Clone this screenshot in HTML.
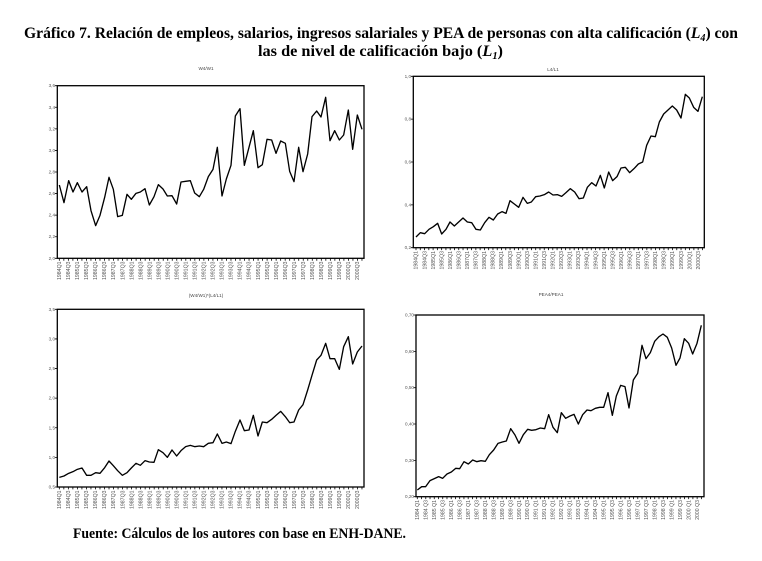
<!DOCTYPE html>
<html><head><meta charset="utf-8"><style>
html,body{margin:0;padding:0;background:#fff;}
svg{display:block;}
.t{font-family:"Liberation Serif",serif;font-weight:bold;fill:#000;}
.yl{font-family:"Liberation Sans",sans-serif;font-size:4.6px;fill:#555;text-anchor:end;}
.xl text{font-family:"Liberation Sans",sans-serif;font-size:5.2px;fill:#555;text-anchor:end;}
.ct{font-family:"Liberation Sans",sans-serif;font-size:4.6px;fill:#444;text-anchor:middle;}
.ln{fill:none;stroke:#000;stroke-width:4;stroke-linejoin:round;}
.fr{fill:none;stroke:#000;stroke-width:1.3;}
</style></head><body>
<svg width="762" height="561" viewBox="0 0 762 561" xmlns="http://www.w3.org/2000/svg">
<rect width="762" height="561" fill="#fff"/>
<text class="t" x="24" y="38" font-size="15.5" textLength="714" lengthAdjust="spacingAndGlyphs">Gráfico 7. Relación de empleos, salarios, ingresos salariales y PEA de  personas con alta calificación (<tspan font-style="italic">L</tspan><tspan font-style="italic" font-size="10" dy="3">4</tspan><tspan dy="-3">) con</tspan></text>
<text class="t" x="258" y="56" font-size="15.5" textLength="245" lengthAdjust="spacingAndGlyphs">las de nivel de calificación bajo (<tspan font-style="italic">L</tspan><tspan font-style="italic" font-size="10" dy="3">1</tspan><tspan dy="-3">)</tspan></text>
<text class="t" x="73" y="538" font-size="15" textLength="333" lengthAdjust="spacingAndGlyphs">Fuente: Cálculos de los autores con base en ENH-DANE.</text>

<!-- Chart 1 -->
<text class="ct" x="206" y="70">W4/W1</text>
<rect class="fr" x="57.3" y="85.7" width="306.7" height="172.6"/>
<g class="yl">
<text x="55" y="87.2">3,6</text><text x="55" y="108.8">3,4</text><text x="55" y="130.4">3,2</text><text x="55" y="151.9">3,0</text><text x="55" y="173.5">2,8</text><text x="55" y="195.1">2,6</text><text x="55" y="216.7">2,4</text><text x="55" y="238.2">2,2</text><text x="55" y="259.8">2,0</text>
</g>
<line x1="56" y1="85.3" x2="56" y2="259" stroke="#000" stroke-width="2.2" stroke-dasharray="0.8 20.775"/>
<line x1="58.93" y1="259.5" x2="362.5" y2="259.5" stroke="#000" stroke-width="2.4" stroke-dasharray="0.8 3.717"/>
<g transform="translate(40 60) scale(0.33333)"><polyline class="ln" points="58,375 72,428 86,362 99,396 112,368 126,396 140,380 153,452 167,497 180,466 194,412 207,352 220,388 233,470 247,466 261,403 274,418 288,400 301,396 315,386 328,435 342,410 355,374 369,387 382,408 396,407 410,432 423,366 437,364 451,362 464,399 478,410 491,388 505,350 519,328 532,262 546,408 559,357 573,316 586,168 600,146 613,316 627,262 640,212 654,323 667,314 681,238 695,240 708,280 722,243 736,250 749,334 762,365 776,262 789,335 803,282 816,170 830,153 843,171 857,112 870,242 884,212 898,240 911,225 925,150 938,268 952,165 966,208"/></g>
<g class="xl" transform="rotate(-90)">
<text x="-261.5" y="61.0">1984Q1</text><text x="-261.5" y="70.1">1984Q3</text><text x="-261.5" y="79.1">1985Q1</text><text x="-261.5" y="88.1">1985Q3</text><text x="-261.5" y="97.2">1986Q1</text><text x="-261.5" y="106.2">1986Q3</text><text x="-261.5" y="115.2">1987Q1</text><text x="-261.5" y="124.3">1987Q3</text><text x="-261.5" y="133.3">1988Q1</text><text x="-261.5" y="142.3">1988Q3</text><text x="-261.5" y="151.4">1989Q1</text><text x="-261.5" y="160.4">1989Q3</text><text x="-261.5" y="169.4">1990Q1</text><text x="-261.5" y="178.5">1990Q3</text><text x="-261.5" y="187.5">1991Q1</text><text x="-261.5" y="196.5">1991Q3</text><text x="-261.5" y="205.6">1992Q1</text><text x="-261.5" y="214.6">1992Q3</text><text x="-261.5" y="223.6">1993Q1</text><text x="-261.5" y="232.7">1993Q3</text><text x="-261.5" y="241.7">1994Q1</text><text x="-261.5" y="250.7">1994Q3</text><text x="-261.5" y="259.8">1995Q1</text><text x="-261.5" y="268.8">1995Q3</text><text x="-261.5" y="277.8">1996Q1</text><text x="-261.5" y="286.9">1996Q3</text><text x="-261.5" y="295.9">1997Q1</text><text x="-261.5" y="304.9">1997Q3</text><text x="-261.5" y="314.0">1998Q1</text><text x="-261.5" y="323.0">1998Q3</text><text x="-261.5" y="332.0">1999Q1</text><text x="-261.5" y="341.1">1999Q3</text><text x="-261.5" y="350.1">2000Q1</text><text x="-261.5" y="359.1">2000Q3</text>
</g>

<!-- Chart 2 -->
<text class="ct" x="553" y="71">L4/L1</text>
<rect class="fr" x="413.3" y="76.3" width="291" height="171.4"/>
<g class="yl">
<text x="411" y="77.8">1,0</text><text x="411" y="120.6">0,8</text><text x="411" y="163.5">0,6</text><text x="411" y="206.3">0,4</text><text x="411" y="249.2">0,2</text>
</g>
<line x1="412" y1="75.9" x2="412" y2="248.5" stroke="#000" stroke-width="2.2" stroke-dasharray="0.8 42.05"/>
<line x1="415.6" y1="248.9" x2="703" y2="248.9" stroke="#000" stroke-width="2.4" stroke-dasharray="0.8 3.475"/>
<g transform="translate(390 60) scale(0.33333)"><polyline class="ln" points="78,531 91,518 104,521 117,508 130,500 143,490 155,522 168,508 180,486 193,498 206,486 219,474 232,486 245,488 258,508 271,510 284,488 297,472 310,480 323,462 336,455 348,460 360,422 373,432 386,442 399,412 412,430 424,426 437,410 450,408 463,404 476,396 489,405 502,404 515,409 528,398 541,386 554,396 567,416 580,414 592,382 605,368 618,378 631,346 643,384 656,336 668,362 681,350 693,324 706,322 719,338 732,326 745,312 758,306 770,256 783,228 796,230 808,186 821,162 834,150 847,138 860,150 873,174 886,103 898,114 911,142 924,154 937,110"/></g>
<g class="xl" transform="rotate(-90)">
<text x="-251" y="417.7">1984Q1</text><text x="-251" y="426.3">1984Q3</text><text x="-251" y="434.8">1985Q1</text><text x="-251" y="443.4">1985Q3</text><text x="-251" y="451.9">1986Q1</text><text x="-251" y="460.5">1986Q3</text><text x="-251" y="469.0">1987Q1</text><text x="-251" y="477.6">1987Q3</text><text x="-251" y="486.1">1988Q1</text><text x="-251" y="494.7">1988Q3</text><text x="-251" y="503.2">1989Q1</text><text x="-251" y="511.8">1989Q3</text><text x="-251" y="520.3">1990Q1</text><text x="-251" y="528.9">1990Q3</text><text x="-251" y="537.4">1991Q1</text><text x="-251" y="546.0">1991Q3</text><text x="-251" y="554.5">1992Q1</text><text x="-251" y="563.1">1992Q3</text><text x="-251" y="571.6">1993Q1</text><text x="-251" y="580.2">1993Q3</text><text x="-251" y="588.7">1994Q1</text><text x="-251" y="597.3">1994Q3</text><text x="-251" y="605.8">1995Q1</text><text x="-251" y="614.4">1995Q3</text><text x="-251" y="622.9">1996Q1</text><text x="-251" y="631.5">1996Q3</text><text x="-251" y="640.0">1997Q1</text><text x="-251" y="648.6">1997Q3</text><text x="-251" y="657.1">1998Q1</text><text x="-251" y="665.7">1998Q3</text><text x="-251" y="674.2">1999Q1</text><text x="-251" y="682.8">1999Q3</text><text x="-251" y="691.3">2000Q1</text><text x="-251" y="699.9">2000Q3</text>
</g>

<!-- Chart 3 -->
<text class="ct" x="206" y="297">(W4/W1)*(L4/L1)</text>
<rect class="fr" x="57.3" y="309.3" width="306.7" height="177.7"/>
<g class="yl">
<text x="55" y="310.8">3,5</text><text x="55" y="340.4">3,0</text><text x="55" y="370">2,5</text><text x="55" y="399.7">2,0</text><text x="55" y="429.3">1,5</text><text x="55" y="458.9">1,0</text><text x="55" y="488.5">0,5</text>
</g>
<line x1="56" y1="308.9" x2="56" y2="488" stroke="#000" stroke-width="2.2" stroke-dasharray="0.8 28.82"/>
<line x1="58.93" y1="488.2" x2="362.5" y2="488.2" stroke="#000" stroke-width="2.4" stroke-dasharray="0.8 3.717"/>
<g transform="translate(40 290) scale(0.33333)"><polyline class="ln" points="58,562 72,558 86,550 99,545 112,538 126,534 140,556 153,556 167,548 180,550 194,533 207,513 220,527 233,542 247,556 261,548 274,534 288,520 301,526 315,512 328,516 342,517 355,479 369,488 382,502 396,480 410,498 423,482 437,470 451,466 464,470 478,468 491,470 505,460 519,458 532,432 546,460 559,456 573,461 586,424 600,390 613,422 627,420 640,376 654,438 667,396 681,398 695,388 708,376 722,364 736,380 749,398 762,396 776,360 789,344 803,300 816,256 830,210 843,196 857,160 870,206 884,206 898,238 911,170 925,140 938,222 952,186 966,168"/></g>
<g class="xl" transform="rotate(-90)">
<text x="-490.5" y="61.0">1984Q1</text><text x="-490.5" y="70.1">1984Q3</text><text x="-490.5" y="79.1">1985Q1</text><text x="-490.5" y="88.1">1985Q3</text><text x="-490.5" y="97.2">1986Q1</text><text x="-490.5" y="106.2">1986Q3</text><text x="-490.5" y="115.2">1987Q1</text><text x="-490.5" y="124.3">1987Q3</text><text x="-490.5" y="133.3">1988Q1</text><text x="-490.5" y="142.3">1988Q3</text><text x="-490.5" y="151.4">1989Q1</text><text x="-490.5" y="160.4">1989Q3</text><text x="-490.5" y="169.4">1990Q1</text><text x="-490.5" y="178.5">1990Q3</text><text x="-490.5" y="187.5">1991Q1</text><text x="-490.5" y="196.5">1991Q3</text><text x="-490.5" y="205.6">1992Q1</text><text x="-490.5" y="214.6">1992Q3</text><text x="-490.5" y="223.6">1993Q1</text><text x="-490.5" y="232.7">1993Q3</text><text x="-490.5" y="241.7">1994Q1</text><text x="-490.5" y="250.7">1994Q3</text><text x="-490.5" y="259.8">1995Q1</text><text x="-490.5" y="268.8">1995Q3</text><text x="-490.5" y="277.8">1996Q1</text><text x="-490.5" y="286.9">1996Q3</text><text x="-490.5" y="295.9">1997Q1</text><text x="-490.5" y="304.9">1997Q3</text><text x="-490.5" y="314.0">1998Q1</text><text x="-490.5" y="323.0">1998Q3</text><text x="-490.5" y="332.0">1999Q1</text><text x="-490.5" y="341.1">1999Q3</text><text x="-490.5" y="350.1">2000Q1</text><text x="-490.5" y="359.1">2000Q3</text>
</g>

<!-- Chart 4 -->
<text class="ct" x="551" y="296">PEA4/PEA1</text>
<rect class="fr" x="416" y="315" width="288" height="181.7"/>
<g class="yl">
<text x="414" y="316.5">0,70</text><text x="414" y="352.8">0,60</text><text x="414" y="389.2">0,50</text><text x="414" y="425.5">0,40</text><text x="414" y="461.9">0,30</text><text x="414" y="498.2">0,20</text>
</g>
<line x1="414.7" y1="314.6" x2="414.7" y2="497.5" stroke="#000" stroke-width="2.2" stroke-dasharray="0.8 35.54"/>
<line x1="416.9" y1="497.9" x2="702" y2="497.9" stroke="#000" stroke-width="2.4" stroke-dasharray="0.8 3.44"/>
<g transform="translate(390 290) scale(0.33333)"><polyline class="ln" points="82,600 95,590 107,590 120,572 133,566 146,560 158,565 171,552 184,546 197,535 209,536 222,515 235,522 248,510 260,515 273,512 286,514 298,494 311,480 324,460 337,456 349,453 362,416 375,435 387,460 400,434 413,418 425,421 438,419 451,414 464,416 476,374 489,412 502,428 514,368 527,385 540,378 552,373 565,402 578,374 591,360 603,362 616,355 629,352 641,352 654,308 667,376 679,318 692,286 705,290 717,354 730,270 743,250 756,166 768,206 781,188 794,154 807,140 819,132 832,142 845,174 858,226 870,204 883,146 896,160 908,192 921,160 934,106"/></g>
<g class="xl" transform="rotate(-90)">
<text x="-500" y="419.0">1984 Q1</text><text x="-500" y="427.5">1984 Q3</text><text x="-500" y="436.0">1985 Q1</text><text x="-500" y="444.4">1985 Q3</text><text x="-500" y="452.9">1986 Q1</text><text x="-500" y="461.4">1986 Q3</text><text x="-500" y="469.9">1987 Q1</text><text x="-500" y="478.4">1987 Q3</text><text x="-500" y="486.8">1988 Q1</text><text x="-500" y="495.3">1988 Q3</text><text x="-500" y="503.8">1989 Q1</text><text x="-500" y="512.3">1989 Q3</text><text x="-500" y="520.8">1990 Q1</text><text x="-500" y="529.2">1990 Q3</text><text x="-500" y="537.7">1991 Q1</text><text x="-500" y="546.2">1991 Q3</text><text x="-500" y="554.7">1992 Q1</text><text x="-500" y="563.2">1992 Q3</text><text x="-500" y="571.6">1993 Q1</text><text x="-500" y="580.1">1993 Q3</text><text x="-500" y="588.6">1994 Q1</text><text x="-500" y="597.1">1994 Q3</text><text x="-500" y="605.6">1995 Q1</text><text x="-500" y="614.0">1995 Q3</text><text x="-500" y="622.5">1996 Q1</text><text x="-500" y="631.0">1996 Q3</text><text x="-500" y="639.5">1997 Q1</text><text x="-500" y="648.0">1997 Q3</text><text x="-500" y="656.4">1998 Q1</text><text x="-500" y="664.9">1998 Q3</text><text x="-500" y="673.4">1999 Q1</text><text x="-500" y="681.9">1999 Q3</text><text x="-500" y="690.4">2000 Q1</text><text x="-500" y="698.8">2000 Q3</text>
</g>
</svg>
</body></html>
